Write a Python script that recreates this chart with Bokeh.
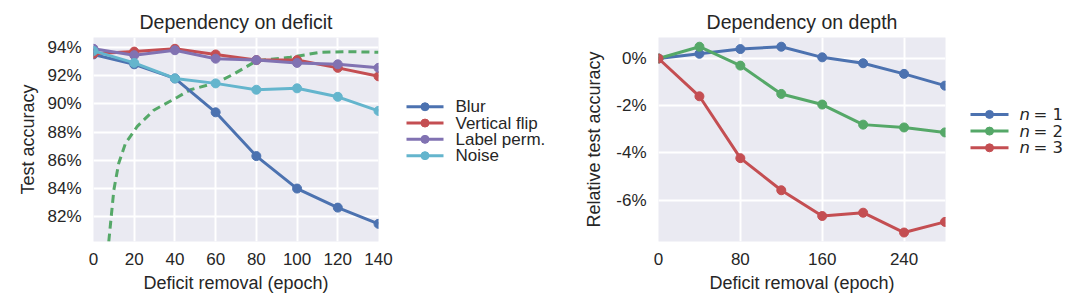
from bokeh.plotting import figure
from bokeh.layouts import row
from bokeh.models import Range1d, FixedTicker, PrintfTickFormatter
from bokeh.core.properties import value
from bokeh.embed import file_html
from bokeh.resources import INLINE

# ---------------- data: dependency on deficit ----------------
deficit_epochs = [0, 20, 40, 60, 80, 100, 120, 140]
blur = [93.5, 92.8, 91.8, 89.4, 86.3, 84.0, 82.65, 81.5]
vertical_flip = [93.55, 93.7, 93.9, 93.5, 93.1, 93.1, 92.55, 91.95]
label_perm = [93.9, 93.45, 93.8, 93.2, 93.1, 92.9, 92.8, 92.55]
noise = [93.75, 92.9, 91.8, 91.45, 91.0, 91.1, 90.5, 89.5]
baseline_x = [7.5, 8.7, 10.0, 12.4, 15.7, 21.5, 29.6, 41.0, 47.6, 60.6, 68.8, 80.2, 96.6, 111.5, 124.7, 140.0]
baseline_y = [80.24, 82.0, 83.9, 85.8, 87.2, 88.4, 89.55, 90.45, 91.0, 91.5, 92.1, 93.05, 93.3, 93.65, 93.7, 93.65]
deficit_xticks = [0, 20, 40, 60, 80, 100, 120, 140]
deficit_yticks = [82, 84, 86, 88, 90, 92, 94]
deficit_labels = ["Blur", "Vertical flip", "Label perm.", "Noise"]

# ---------------- data: dependency on depth ----------------
depth_epochs = [0, 40, 80, 120, 160, 200, 240, 280]
n1 = [0.0, 0.2, 0.4, 0.5, 0.05, -0.2, -0.65, -1.15]
n2 = [0.0, 0.5, -0.3, -1.5, -1.95, -2.8, -2.92, -3.13]
n3 = [0.0, -1.6, -4.22, -5.58, -6.67, -6.53, -7.37, -6.92]
depth_xticks = [0, 80, 160, 240]
depth_yticks = [0, -2, -4, -6]
depth_labels = ["1", "2", "3"]

BLUE, GREEN, RED, PURPLE, CYAN = "#4C72B0", "#55A868", "#C44E52", "#8172B2", "#64B5CD"
BG = "#EAEAF2"
TXT = "#262626"
FONT = "Liberation Sans"
H = 299


def style(p, xticks, yticks, xlabel, ylabel, ylab_standoff):
    p.background_fill_color = BG
    p.border_fill_color = "white"
    p.outline_line_color = None
    p.grid.grid_line_color = "white"
    p.grid.grid_line_width = 2
    p.xaxis.ticker = FixedTicker(ticks=xticks)
    p.yaxis.ticker = FixedTicker(ticks=yticks)
    p.yaxis.formatter = PrintfTickFormatter(format="%d%%")
    p.xaxis.axis_label = xlabel
    p.yaxis.axis_label = ylabel
    for ax in p.axis:
        ax.axis_line_color = None
        ax.major_tick_line_color = None
        ax.minor_tick_line_color = None
        ax.major_tick_out = 0
        ax.major_tick_in = 0
        ax.major_label_text_font = FONT
        ax.major_label_text_font_size = "17px"
        ax.major_label_text_color = TXT
        ax.axis_label_text_font = FONT
        ax.axis_label_text_font_size = "18px"
        ax.axis_label_text_font_style = "normal"
        ax.axis_label_text_color = TXT
    p.xaxis.major_label_standoff = 11
    p.yaxis.major_label_standoff = 12
    p.xaxis.axis_label_standoff = 5
    p.yaxis.axis_label_standoff = ylab_standoff
    p.title.text_font = FONT
    p.title.text_font_size = "19.5px"
    p.title.text_font_style = "normal"
    p.title.text_color = TXT
    p.title.align = "center"


# ---------------- left panel ----------------
p1 = figure(width=395, height=H, title="Dependency on deficit",
            x_range=Range1d(0, 140), y_range=Range1d(80.25, 94.7),
            toolbar_location=None, output_backend="svg",
            min_border_left=93, min_border_right=17, min_border_top=35, min_border_bottom=58)
style(p1, deficit_xticks, deficit_yticks, "Deficit removal (epoch)", "Test accuracy", 6)
p1.line(baseline_x, baseline_y, color=GREEN, line_width=3, line_dash="8 5")
for ys, c in zip([blur, vertical_flip, label_perm, noise], [BLUE, RED, PURPLE, CYAN]):
    p1.line(deficit_epochs, ys, color=c, line_width=3)
    p1.scatter(deficit_epochs, ys, color=c, size=9)


def legend_fig(w):
    p = figure(width=w, height=H, x_range=Range1d(0, w), y_range=Range1d(H, 0),
               x_axis_type=None, y_axis_type=None, toolbar_location=None,
               output_backend="svg", min_border=0, outline_line_color=None)
    p.grid.visible = False
    return p


# ---------------- left legend ----------------
l1 = legend_fig(185)
for i, (lab, c) in enumerate(zip(deficit_labels, [BLUE, RED, PURPLE, CYAN])):
    yy = 101.5 + i * 23.9
    l1.line([11, 48], [yy, yy], color=c, line_width=3)
    l1.scatter([29.5], [yy], color=c, size=8)
    l1.text([60], [yy], text=[lab], text_baseline="middle", text_align="left",
            text_font=value(FONT), text_font_size=value("17px"), text_color=TXT)

# ---------------- right panel ----------------
p2 = figure(width=370, height=H, title="Dependency on depth",
            x_range=Range1d(0, 280.5), y_range=Range1d(-7.75, 0.89),
            toolbar_location=None, output_backend="svg",
            min_border_left=78, min_border_right=5, min_border_top=37, min_border_bottom=58)
style(p2, depth_xticks, depth_yticks, "Deficit removal (epoch)", "Relative test accuracy", 9)
for ys, c in zip([n1, n2, n3], [BLUE, GREEN, RED]):
    p2.line(depth_epochs, ys, color=c, line_width=3)
    p2.scatter(depth_epochs, ys, color=c, size=9)

# ---------------- right legend ----------------
l2 = legend_fig(130)
for i, (lab, c) in enumerate(zip(depth_labels, [BLUE, GREEN, RED])):
    yy = 112.7 + i * 24.5
    l2.line([20, 58], [yy, yy], color=c, line_width=3)
    l2.scatter([39], [yy], color=c, size=8)
    l2.text([69], [yy], text=["n"], text_baseline="middle", text_align="left",
            text_font=value("DejaVu Sans"), text_font_style="italic",
            text_font_size=value("16.5px"), text_color=TXT)
    l2.text([83], [yy], text=["= " + lab], text_baseline="middle", text_align="left",
            text_font=value("DejaVu Sans"), text_font_size=value("16.5px"), text_color=TXT)

layout = row(p1, l1, p2, l2)
open("out.html", "w").write(file_html(layout, INLINE))
